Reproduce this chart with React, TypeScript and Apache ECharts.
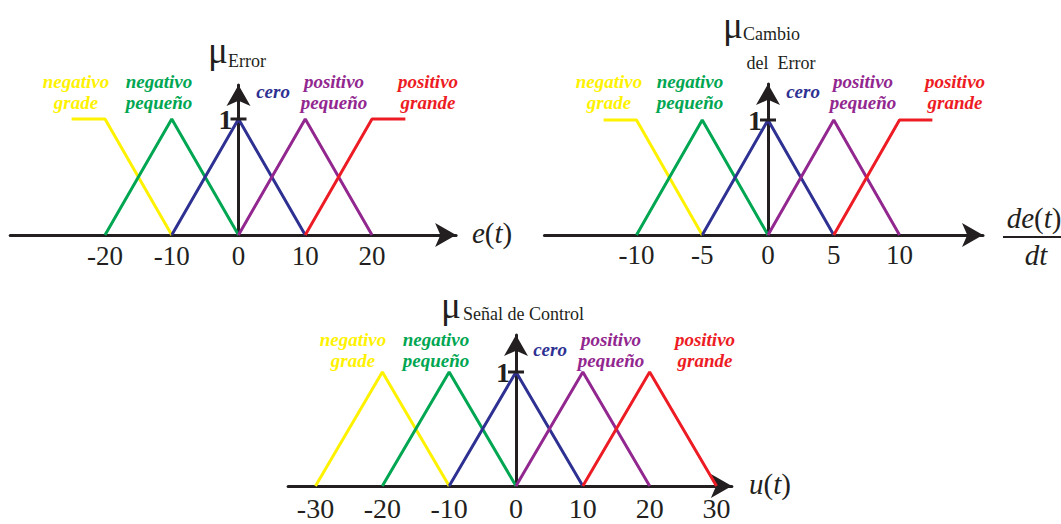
import React, { useEffect, useRef } from "react";
import * as echarts from "echarts";

// ---- data ----
const SET_NAMES = ["negativo\ngrade", "negativo\npequeño", "cero", "positivo\npequeño", "positivo\ngrande"];

const ERROR_TICKS = [-20, -10, 0, 10, 20];
const ERROR_NG = [[-25, 1], [-20, 1], [-10, 0]];
const ERROR_NP = [[-20, 0], [-10, 1], [0, 0]];
const ERROR_Z = [[-10, 0], [0, 1], [10, 0]];
const ERROR_PP = [[0, 0], [10, 1], [20, 0]];
const ERROR_PG = [[10, 0], [20, 1], [25, 1]];

const DERROR_TICKS = [-10, -5, 0, 5, 10];
const DERROR_NG = [[-12.5, 1], [-10, 1], [-5, 0]];
const DERROR_NP = [[-10, 0], [-5, 1], [0, 0]];
const DERROR_Z = [[-5, 0], [0, 1], [5, 0]];
const DERROR_PP = [[0, 0], [5, 1], [10, 0]];
const DERROR_PG = [[5, 0], [10, 1], [12.5, 1]];

const CONTROL_TICKS = [-30, -20, -10, 0, 10, 20, 30];
const CONTROL_NG = [[-30, 0], [-20, 1], [-10, 0]];
const CONTROL_NP = [[-20, 0], [-10, 1], [0, 0]];
const CONTROL_Z = [[-10, 0], [0, 1], [10, 0]];
const CONTROL_PP = [[0, 0], [10, 1], [20, 0]];
const CONTROL_PG = [[10, 0], [20, 1], [30, 0]];

const MU_TICKS = [1];

// ---- style ----
const COLORS = ["#FFF200", "#00A651", "#2E3192", "#92278F", "#ED1C24"];
const INK = "#231F20";
const FONT = "'Liberation Serif', 'Times New Roman', serif";

type Panel = {
  x0: number;
  sx: number;
  min: number;
  max: number;
  y0: number;
  sy: number;
  ymax: number;
  ticks: number[];
  tickFont: number;
  tickMargin: number;
  sets: number[][][];
  labelX: number[];
  labelY: number;
};

const panels: Panel[] = [
  { x0: 238.5, sx: 6.675, min: -34.2, max: 32.6, y0: 235, sy: 116, ymax: 1.293, ticks: ERROR_TICKS, tickFont: 27, tickMargin: 7,
    sets: [ERROR_NG, ERROR_NP, ERROR_Z, ERROR_PP, ERROR_PG], labelX: [76, 159, 273, 334, 428], labelY: 82 },
  { x0: 768, sx: 13.15, min: -17, max: 16.35, y0: 235, sy: 115, ymax: 1.313, ticks: DERROR_TICKS, tickFont: 27, tickMargin: 6,
    sets: [DERROR_NG, DERROR_NP, DERROR_Z, DERROR_PP, DERROR_PG], labelX: [609, 690, 803, 863, 955], labelY: 82 },
  { x0: 516, sx: 6.683, min: -34.1, max: 32.3, y0: 486, sy: 114, ymax: 1.325, ticks: CONTROL_TICKS, tickFont: 28, tickMargin: 8,
    sets: [CONTROL_NG, CONTROL_NP, CONTROL_Z, CONTROL_PP, CONTROL_PG], labelX: [353, 436, 550, 611, 705], labelY: 340 },
];

export default function App() {
  const ref = useRef<HTMLDivElement>(null);
  useEffect(() => {
    document.body.style.margin = "0";
    const chart = echarts.init(ref.current!, null, { renderer: "svg" });
    const grid: any[] = [];
    const xAxis: any[] = [];
    const yAxis: any[] = [];
    const series: any[] = [];
    const graphic: any[] = [];
    const axisLine = {
      show: true,
      onZero: true,
      symbol: ["none", "arrow"],
      symbolSize: [18, 21],
      lineStyle: { color: INK, width: 3 },
    };
    panels.forEach((p, i) => {
      const left = p.x0 + p.min * p.sx;
      const width = (p.max - p.min) * p.sx;
      const height = p.ymax * p.sy;
      grid.push({ left, width, top: p.y0 - height, height });
      xAxis.push({
        type: "value", gridIndex: i, min: p.min, max: p.max,
        axisLine, axisTick: { show: false }, splitLine: { show: false },
        axisLabel: { customValues: p.ticks, fontFamily: FONT, fontSize: p.tickFont, color: INK, margin: p.tickMargin },
      });
      yAxis.push({
        type: "value", gridIndex: i, min: 0, max: p.ymax,
        axisLine, axisTick: { show: false }, splitLine: { show: false },
        axisLabel: { show: false },
      });
      p.sets.forEach((d, k) => {
        series.push({
          type: "line", xAxisIndex: i, yAxisIndex: i, data: d, symbol: "none",
          lineStyle: { color: COLORS[k], width: 3 }, z: 1, silent: true,
        });
        const two = SET_NAMES[k].includes("\n");
        graphic.push({
          type: "text", x: p.labelX[k], y: two ? p.labelY + 10 : p.labelY + 9,
          style: {
            text: SET_NAMES[k], fill: COLORS[k], fontFamily: FONT, fontSize: 19,
            fontWeight: "bold", fontStyle: "italic", align: "center", verticalAlign: "middle", lineHeight: 21,
          },
        });
      });
      series.push({
        type: "scatter", xAxisIndex: i, yAxisIndex: i, data: MU_TICKS.map((v) => [0, v]),
        symbol: "rect", symbolSize: [16, 3], itemStyle: { color: INK, opacity: 1 }, z: 5, silent: true,
        label: {
          show: true, position: "left", distance: -2, formatter: (q: any) => String(q.value[1]),
          fontFamily: FONT, fontSize: 28, fontWeight: "bold", color: INK, opacity: 1,
        },
      });
    });

    const mu = (x: number, y: number) => ({
      type: "text", x, y,
      style: { text: "μ", fill: INK, fontFamily: FONT, fontSize: 37, align: "left", verticalAlign: "middle" },
    });
    const sub = (x: number, y: number, t: string, align = "left") => ({
      type: "text", x, y,
      style: { text: t, fill: INK, fontFamily: FONT, fontSize: 18, align, verticalAlign: "middle" },
    });
    const axisTitle = (x: number, y: number, t: string, align = "left") => ({
      type: "text", x, y,
      style: {
        text: t, fill: INK, fontFamily: FONT, fontSize: 29, align, verticalAlign: "middle",
        rich: { i: { fontStyle: "italic", fontFamily: FONT, fontSize: 29, fill: INK }, n: { fontFamily: FONT, fontSize: 29, fill: INK } },
      },
    });
    graphic.push(mu(208, 50), sub(228, 61, "Error"));
    graphic.push(mu(723, 25), sub(743, 34, "Cambio"), sub(781, 63, "del  Error", "center"));
    graphic.push(mu(441, 305), sub(463, 314, "Señal de Control"));
    graphic.push(axisTitle(472, 233, "{i|e}{n|(}{i|t}{n|)}"));
    graphic.push(axisTitle(749, 484, "{i|u}{n|(}{i|t}{n|)}"));
    graphic.push(axisTitle(1034, 218, "{i|de}{n|(}{i|t}{n|)}", "center"));
    graphic.push({ type: "line", shape: { x1: 1003, y1: 237, x2: 1061, y2: 237 }, style: { stroke: INK, lineWidth: 2 } });
    graphic.push(axisTitle(1036, 255, "{i|dt}", "center"));

    chart.setOption({ animation: false, grid, xAxis, yAxis, series, graphic });
    return () => chart.dispose();
  }, []);
  return <div ref={ref} style={{ width: 1061, height: 524, background: "#fff" }} />;
}
